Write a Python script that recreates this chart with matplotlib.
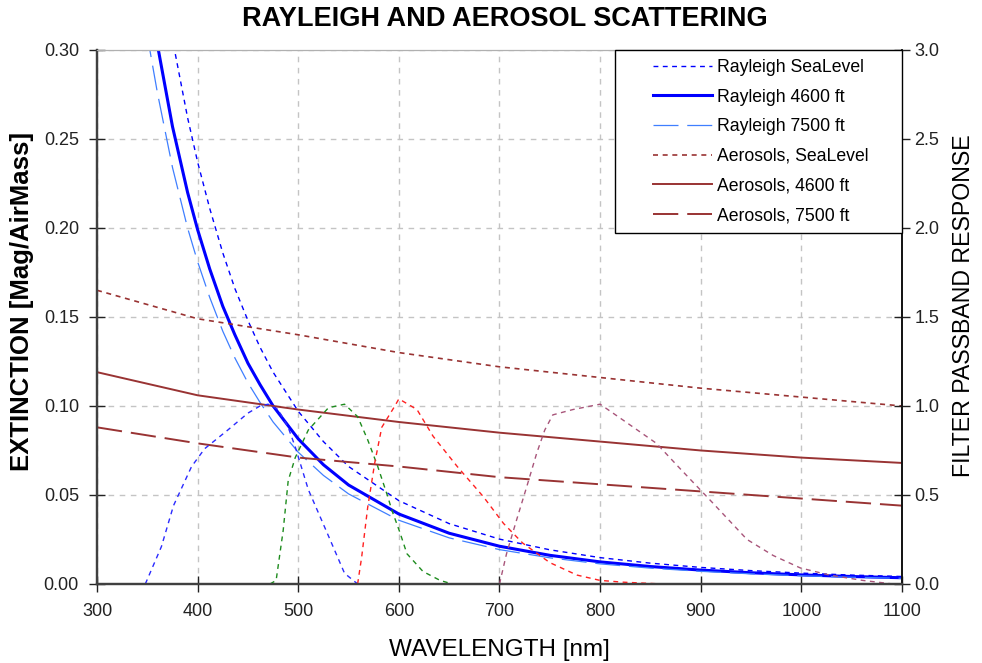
import matplotlib
matplotlib.use("Agg")
import matplotlib.pyplot as plt
from matplotlib.lines import Line2D
from matplotlib.legend_handler import HandlerLine2D

plt.rcParams['font.family'] = ['Liberation Sans', 'DejaVu Sans']

# Rayleigh extinction [mag/airmass] vs wavelength [nm]
wl_rayleigh = [340, 350, 360, 375, 390, 400, 412, 425, 437, 450, 462, 475, 500, 525, 550,
               600, 650, 700, 750, 800, 850, 900, 950, 1000, 1050, 1100]
rayleigh_sea = [0.453, 0.403, 0.361, 0.306, 0.262, 0.237, 0.211, 0.186, 0.166, 0.148, 0.133,
                0.119, 0.097, 0.080, 0.066, 0.0468, 0.0339, 0.0252, 0.0192, 0.0148, 0.0117,
                0.0093, 0.0075, 0.0061, 0.0050, 0.0042]
rayleigh_4600 = [0.381, 0.339, 0.303, 0.257, 0.220, 0.199, 0.177, 0.156, 0.140, 0.124, 0.112,
                 0.100, 0.0815, 0.067, 0.0556, 0.0393, 0.0285, 0.0212, 0.0161, 0.0124, 0.0098,
                 0.0078, 0.0063, 0.0051, 0.0042, 0.0035]
rayleigh_7500 = [0.347, 0.308, 0.276, 0.234, 0.200, 0.181, 0.161, 0.142, 0.127, 0.113, 0.102,
                 0.091, 0.074, 0.061, 0.0506, 0.0358, 0.0259, 0.0193, 0.0147, 0.0113, 0.0089,
                 0.0071, 0.0057, 0.0046, 0.0038, 0.0032]

# Aerosol extinction
wl_aerosol = [300, 400, 500, 600, 700, 800, 900, 1000, 1100]
aerosol_sea = [0.165, 0.149, 0.140, 0.130, 0.122, 0.116, 0.110, 0.105, 0.100]
aerosol_4600 = [0.119, 0.106, 0.098, 0.091, 0.085, 0.080, 0.075, 0.071, 0.068]
aerosol_7500 = [0.088, 0.079, 0.071, 0.066, 0.060, 0.056, 0.052, 0.048, 0.044]

# Filter passband responses (right axis)
wl_blue = [348, 364, 376, 394, 407, 430, 450, 462, 470, 480, 490, 497, 510, 530, 546, 559]
blue_resp = [0, 0.21, 0.44, 0.66, 0.76, 0.865, 0.96, 1.0, 1.01, 0.98, 0.88, 0.77, 0.53, 0.27, 0.06, 0]
wl_green = [472, 478, 485, 490, 497, 510, 530, 546, 559, 569, 579, 589, 593, 601, 608, 624, 641, 653]
green_resp = [0, 0.02, 0.30, 0.58, 0.71, 0.865, 0.99, 1.01, 0.94, 0.81, 0.66, 0.49, 0.415, 0.29,
              0.17, 0.07, 0.02, 0]
wl_red = [559, 563, 569, 576, 583, 596, 600, 618, 634, 658, 684, 704, 723, 750, 777, 800, 823, 862]
red_resp = [0, 0.15, 0.43, 0.68, 0.88, 1.0, 1.04, 0.98, 0.83, 0.66, 0.49, 0.34, 0.23, 0.12, 0.05,
            0.02, 0.01, 0]
wl_ir = [700, 707, 717, 727, 737, 745, 753, 773, 800, 823, 856, 880, 912, 946, 972, 999, 1028, 1061, 1091]
ir_resp = [0, 0.17, 0.36, 0.545, 0.735, 0.865, 0.95, 0.98, 1.01, 0.92, 0.79, 0.645, 0.455, 0.25,
           0.16, 0.09, 0.05, 0.02, 0]

labels = ['Rayleigh SeaLevel', 'Rayleigh 4600 ft', 'Rayleigh 7500 ft',
          'Aerosols, SeaLevel', 'Aerosols, 4600 ft', 'Aerosols, 7500 ft']

BLUE = '#0000ff'
LBLUE = '#3f7fff'
DRED = '#993333'

fig = plt.figure(figsize=(9.82, 6.63), dpi=100)
ax = fig.add_axes([0.0988, 0.1192, 0.8197, 0.8054])
ax2 = ax.twinx()

dot = (3.5, 3.2)

lines = []
lines += ax.plot(wl_rayleigh, rayleigh_sea, color=BLUE, lw=1.0, dashes=dot)
lines += ax.plot(wl_rayleigh, rayleigh_4600, color=BLUE, lw=2.2)
lines += ax.plot(wl_rayleigh, rayleigh_7500, color=LBLUE, lw=0.9, dashes=(20, 7))
lines += ax.plot(wl_aerosol, aerosol_sea, color=DRED, lw=1.2, dashes=(3, 2.8))
lines += ax.plot(wl_aerosol, aerosol_4600, color=DRED, lw=1.4)
lines += ax.plot(wl_aerosol, aerosol_7500, color=DRED, lw=1.4, dashes=(13, 4.6))

ax2.plot(wl_blue, blue_resp, color='#2a2aff', lw=1.0, dashes=dot)
ax2.plot(wl_green, green_resp, color='#1e8c1e', lw=1.0, dashes=dot)
ax2.plot(wl_red, red_resp, color='#ff2020', lw=1.0, dashes=dot)
ax2.plot(wl_ir, ir_resp, color='#a8557a', lw=1.0, dashes=dot)

ax.set_xlim(300, 1100)
ax.set_ylim(0, 0.30)
ax2.set_ylim(0, 3.0)
ax.set_xticks(range(300, 1101, 100))
ax.set_yticks([0, 0.05, 0.10, 0.15, 0.20, 0.25, 0.30])
ax.set_yticklabels(['0.00', '0.05', '0.10', '0.15', '0.20', '0.25', '0.30'])
ax2.set_yticks([0, 0.5, 1.0, 1.5, 2.0, 2.5, 3.0])
ax2.set_yticklabels(['0.0', '0.5', '1.0', '1.5', '2.0', '2.5', '3.0'])

ax.grid(True, color='#c4c4c4', lw=1.0, dashes=(4, 4))
ax.set_axisbelow(True)

for a in (ax, ax2):
    a.tick_params(direction='inout', length=12, width=1.0, labelsize=13, colors='#222222')
    a.spines['top'].set_color('#b0b0b0')
    a.spines['left'].set_color('#404040')
    a.spines['left'].set_linewidth(1.6)
    a.spines['bottom'].set_color('#404040')
    a.spines['bottom'].set_linewidth(1.6)
    a.spines['right'].set_color('#111111')
    a.spines['right'].set_linewidth(1.2)
ax.tick_params(axis='x', pad=8)
ax.tick_params(axis='y', pad=7)
ax2.tick_params(axis='y', pad=3)

ax.set_xlabel('WAVELENGTH [nm]', fontsize=17.5, va='center')
ax.xaxis.set_label_coords(0.5, -0.124)
ax.set_ylabel('EXTINCTION [Mag/AirMass]', fontsize=18.5, fontweight='bold', va='center')
ax.yaxis.set_label_coords(-0.093, 0.53)
ax2.set_ylabel('FILTER PASSBAND RESPONSE', fontsize=16.7, rotation=90, va='center')
ax2.yaxis.set_label_coords(1.076, 0.522)
fig.text(0.514, 0.972, 'RAYLEIGH AND AEROSOL SCATTERING', ha='center', va='center',
         fontsize=19.5, fontweight='bold')

handler = HandlerLine2D(xpad=1.65)
leg = ax2.legend(lines, labels, loc='upper left', bbox_to_anchor=(0.6435, 0.0, 0.3565, 1.0),
                 mode='expand', borderaxespad=0, fontsize=12.7, handlelength=5.0,
                 handletextpad=0.3, borderpad=0.5, labelspacing=0.72,
                 fancybox=False, framealpha=1, edgecolor='black',
                 handler_map={Line2D: handler})
leg.get_frame().set_linewidth(1.0)

fig.savefig('out.png', dpi=100)
